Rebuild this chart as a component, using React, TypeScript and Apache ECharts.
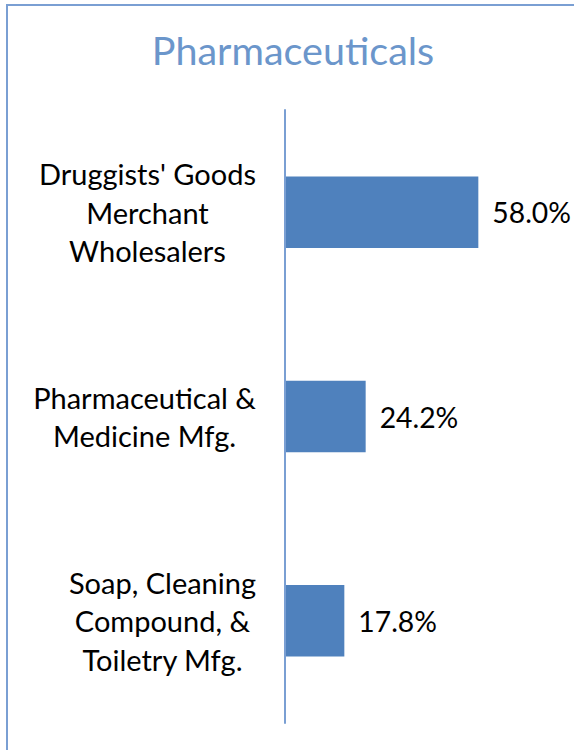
import React, { useEffect, useRef } from "react";
import * as echarts from "echarts";

const TITLE = "Pharmaceuticals";
const categories = [
  "Druggists' Goods\nMerchant\nWholesalers",
  "Pharmaceutical &\nMedicine Mfg.",
  "Soap, Cleaning\nCompound, &\nToiletry Mfg.",
];
const shares = [58.0, 24.2, 17.8];

const FONT = "Lato, 'Open Sans', sans-serif";

export default function App() {
  const ref = useRef<HTMLDivElement>(null);
  useEffect(() => {
    if (!ref.current) return;
    const chart = echarts.init(ref.current, null, { renderer: "svg" });
    chart.setOption({
      animation: false,
      backgroundColor: "#ffffff",
      title: {
        text: TITLE,
        left: 288,
        top: 24,
        textAlign: "center",
        textStyle: {
          fontFamily: FONT,
          fontSize: 39.5,
          fontWeight: "normal",
          color: "#6B96CB",
        },
      },
      graphic: [
        {
          type: "rect",
          shape: { x: 7, y: 5, width: 700, height: 900 },
          style: { fill: "none", stroke: "#7A9FD3", lineWidth: 2 },
          silent: true,
        },
      ],
      grid: { left: 285, right: 89, top: 110, bottom: 27, containLabel: false },
      xAxis: {
        type: "value",
        min: 0,
        max: 60,
        show: false,
      },
      yAxis: {
        type: "category",
        data: categories,
        inverse: true,
        z: 5,
        axisLine: { show: true, lineStyle: { color: "#7A9FD3", width: 2 } },
        axisTick: { show: false },
        splitLine: { show: false },
        axisLabel: {
          margin: 29,
          formatter: (v: string) =>
            v
              .split("\n")
              .map((l) => `{c|${l}}`)
              .join("\n"),
          rich: {
            c: {
              align: "center",
              fontFamily: FONT,
              fontSize: 29,
              lineHeight: 38.5,
              color: "#000000",
            },
          },
        },
      },
      series: [
        {
          type: "bar",
          data: shares,
          barWidth: "35%",
          itemStyle: { color: "#4F81BD" },
          label: {
            show: true,
            position: "right",
            distance: 14,
            formatter: (p: any) => `${Number(p.value).toFixed(1)}%`,
            fontFamily: FONT,
            fontSize: 28.3,
            color: "#000000",
          },
        },
      ],
    });
    return () => chart.dispose();
  }, []);
  return (
    <div
      ref={ref}
      style={{ position: "absolute", left: 0, top: 0, width: 574, height: 750 }}
    />
  );
}
